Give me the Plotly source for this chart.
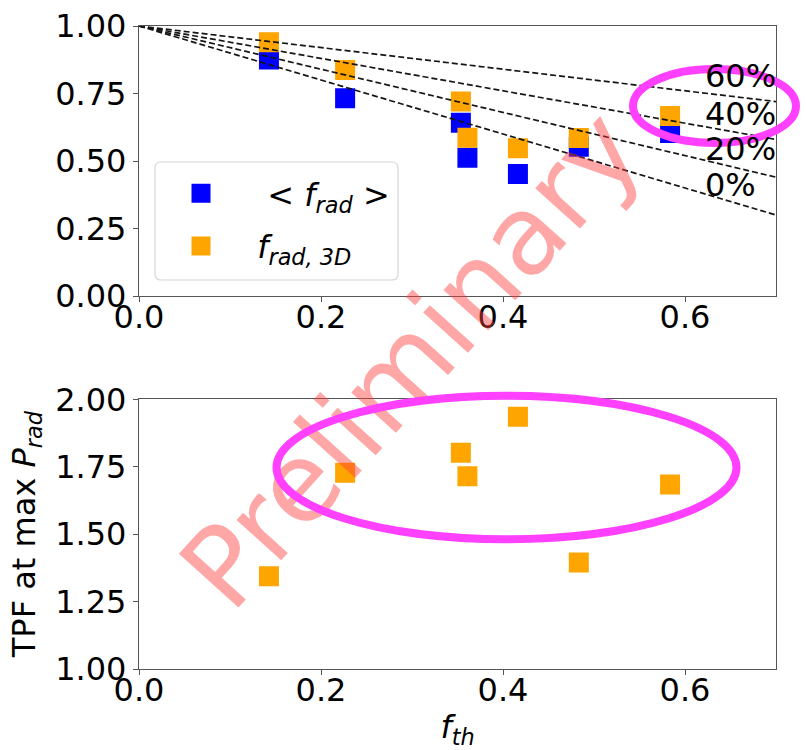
import plotly.graph_objects as go
from plotly.subplots import make_subplots

# ---------------- data ----------------
f_th = [0.1428, 0.2265, 0.3537, 0.3609, 0.4164, 0.4833, 0.5836]
f_rad_mean = [0.876, 0.732, 0.642, 0.512, 0.452, 0.553, 0.604]
f_rad_3d = [0.940, 0.837, 0.720, 0.586, 0.547, 0.585, 0.667]
tpf_at_max_prad = [1.344, 1.728, 1.802, 1.715, 1.935, 1.395, 1.684]

ref_labels = ["60%", "40%", "20%", "0%"]
ref_x = [0.0, 0.7]
ref_y_start = [1.0, 1.0, 1.0, 1.0]
ref_y_end = [0.72, 0.58, 0.44, 0.30]
ref_label_x = 0.62
ref_label_y = [0.815, 0.674, 0.546, 0.411]

x_ticks = [0.0, 0.2, 0.4, 0.6]
x_ticklabels = ["0.0", "0.2", "0.4", "0.6"]
y1_ticks = [0.0, 0.25, 0.5, 0.75, 1.0]
y1_ticklabels = ["0.00", "0.25", "0.50", "0.75", "1.00"]
y2_ticks = [1.0, 1.25, 1.5, 1.75, 2.0]
y2_ticklabels = ["1.00", "1.25", "1.50", "1.75", "2.00"]

# ---------------- layout geometry ----------------
W, H = 806, 750
ML, MR, MT, MB = 139, 30, 26, 81
PW, PH = W - ML - MR, H - MT - MB


def px2x(px):
    return (px - ML) / PW


def py2y(py):
    return (H - MB - py) / PH


FONT = "DejaVu Sans"
BLUE = "#0000FF"
ORANGE = "#FFA500"
MAGENTA = "#FF40FF"
AX = "#555555"

fig = make_subplots(rows=2, cols=1)

fig.add_trace(go.Scatter(x=f_th, y=f_rad_mean, mode="markers",
                         marker=dict(symbol="square", size=17, color=BLUE,
                                     line=dict(width=3, color=BLUE)),
                         name="&nbsp;&nbsp;&lt; <i>f</i><sub><i>rad</i></sub> &gt;&nbsp;",
                         legendgroup="a"), row=1, col=1)
fig.add_trace(go.Scatter(x=f_th, y=f_rad_3d, mode="markers",
                         marker=dict(symbol="square", size=17, color=ORANGE,
                                     line=dict(width=3, color=ORANGE)),
                         name="&nbsp;<i>f</i><sub><i>rad, 3D</i></sub>",
                         legendgroup="b"), row=1, col=1)

for lab, y0, y1 in zip(ref_labels, ref_y_start, ref_y_end):
    fig.add_trace(go.Scatter(x=ref_x, y=[y0, y1], mode="lines",
                             line=dict(color="#151515", width=1.7, dash="6px,3px"),
                             showlegend=False, hoverinfo="skip"), row=1, col=1)

for lab, ly in zip(ref_labels, ref_label_y):
    fig.add_annotation(x=ref_label_x, y=ly, xref="x", yref="y", text=lab,
                       showarrow=False, xanchor="left", yanchor="middle",
                       font=dict(size=32, family=FONT, color="black"))

fig.add_trace(go.Scatter(x=f_th, y=tpf_at_max_prad, mode="markers",
                         marker=dict(symbol="square", size=17, color=ORANGE,
                                     line=dict(width=3, color=ORANGE)),
                         showlegend=False), row=2, col=1)

axis_common = dict(showgrid=False, zeroline=False, showline=True, mirror=True,
                   linecolor=AX, linewidth=1.3, ticks="outside", ticklen=5,
                   tickcolor=AX, tickwidth=1.3, automargin=False,
                   tickfont=dict(size=32, family=FONT, color="black"))

fig.update_xaxes(**axis_common, range=[0, 0.7], tickvals=x_ticks, ticktext=x_ticklabels,
                 ticklabelstandoff=-13)
fig.update_yaxes(**axis_common)
fig.update_yaxes(range=[0, 1], tickvals=y1_ticks, ticktext=y1_ticklabels, row=1, col=1)
fig.update_yaxes(range=[1, 2], tickvals=y2_ticks, ticktext=y2_ticklabels, row=2, col=1,
                 title=dict(text="TPF at max <i>P</i><sub><i>rad</i></sub>",
                            font=dict(size=32, family=FONT, color="black"), standoff=9))
fig.update_xaxes(row=2, col=1,
                 title=dict(text="<i>f</i><sub><i>th</i></sub>",
                            font=dict(size=32, family=FONT, color="black"), standoff=16))

fig.update_layout(
    xaxis=dict(domain=[0, 1]),
    xaxis2=dict(domain=[0, 1]),
    yaxis=dict(domain=[py2y(296), 1.0]),
    yaxis2=dict(domain=[0.0, py2y(399.3)]),
)


def rounded_rect_path(x0, y0, x1, y1, r):
    # pixel-space corners -> paper-space SVG path with rounded corners
    def P(px, py):
        return f"{px2x(px):.5f},{py2y(py):.5f}"
    return (f"M {P(x0 + r, y0)} L {P(x1 - r, y0)} Q {P(x1, y0)} {P(x1, y0 + r)} "
            f"L {P(x1, y1 - r)} Q {P(x1, y1)} {P(x1 - r, y1)} "
            f"L {P(x0 + r, y1)} Q {P(x0, y1)} {P(x0, y1 - r)} "
            f"L {P(x0, y0 + r)} Q {P(x0, y0)} {P(x0 + r, y0)} Z")


shapes = []
# legend frame
shapes.append(dict(type="path", xref="paper", yref="paper",
                   path=rounded_rect_path(155, 162, 398, 280, 6),
                   fillcolor="rgba(255,255,255,0.8)",
                   line=dict(color="#d6d6d6", width=1.2)))
# watermark as a shape label (so the ellipses can be drawn above it)
shapes.append(dict(type="line", xref="paper", yref="paper",
                   x0=px2x(186), y0=py2y(597), x1=px2x(624), y1=py2y(111),
                   line=dict(color="rgba(0,0,0,0)", width=1),
                   label=dict(text="Preliminary", textangle=-48, textposition="middle",
                              xanchor="center", yanchor="middle",
                              font=dict(size=110, family=FONT, color="rgba(255,60,60,0.45)"))))
# highlight ellipses
shapes.append(dict(type="circle", xref="paper", yref="paper",
                   x0=px2x(633), x1=px2x(796), y0=py2y(143), y1=py2y(69),
                   line=dict(color=MAGENTA, width=8)))
shapes.append(dict(type="circle", xref="paper", yref="paper",
                   x0=px2x(276.5), x1=px2x(736.5), y0=py2y(539.3), y1=py2y(395.7),
                   line=dict(color=MAGENTA, width=8)))

fig.update_layout(
    width=W, height=H,
    margin=dict(l=ML, r=MR, t=MT, b=MB, autoexpand=False),
    paper_bgcolor="white", plot_bgcolor="white",
    font=dict(family=FONT, color="black"),
    shapes=shapes,
    showlegend=True,
    legend=dict(x=px2x(155), y=py2y(166), xanchor="left", yanchor="top",
                bgcolor="rgba(0,0,0,0)", borderwidth=0,
                font=dict(size=32, family=FONT, color="black"),
                traceorder="grouped", tracegroupgap=8, itemwidth=82),
)

fig.write_html("out.html")
